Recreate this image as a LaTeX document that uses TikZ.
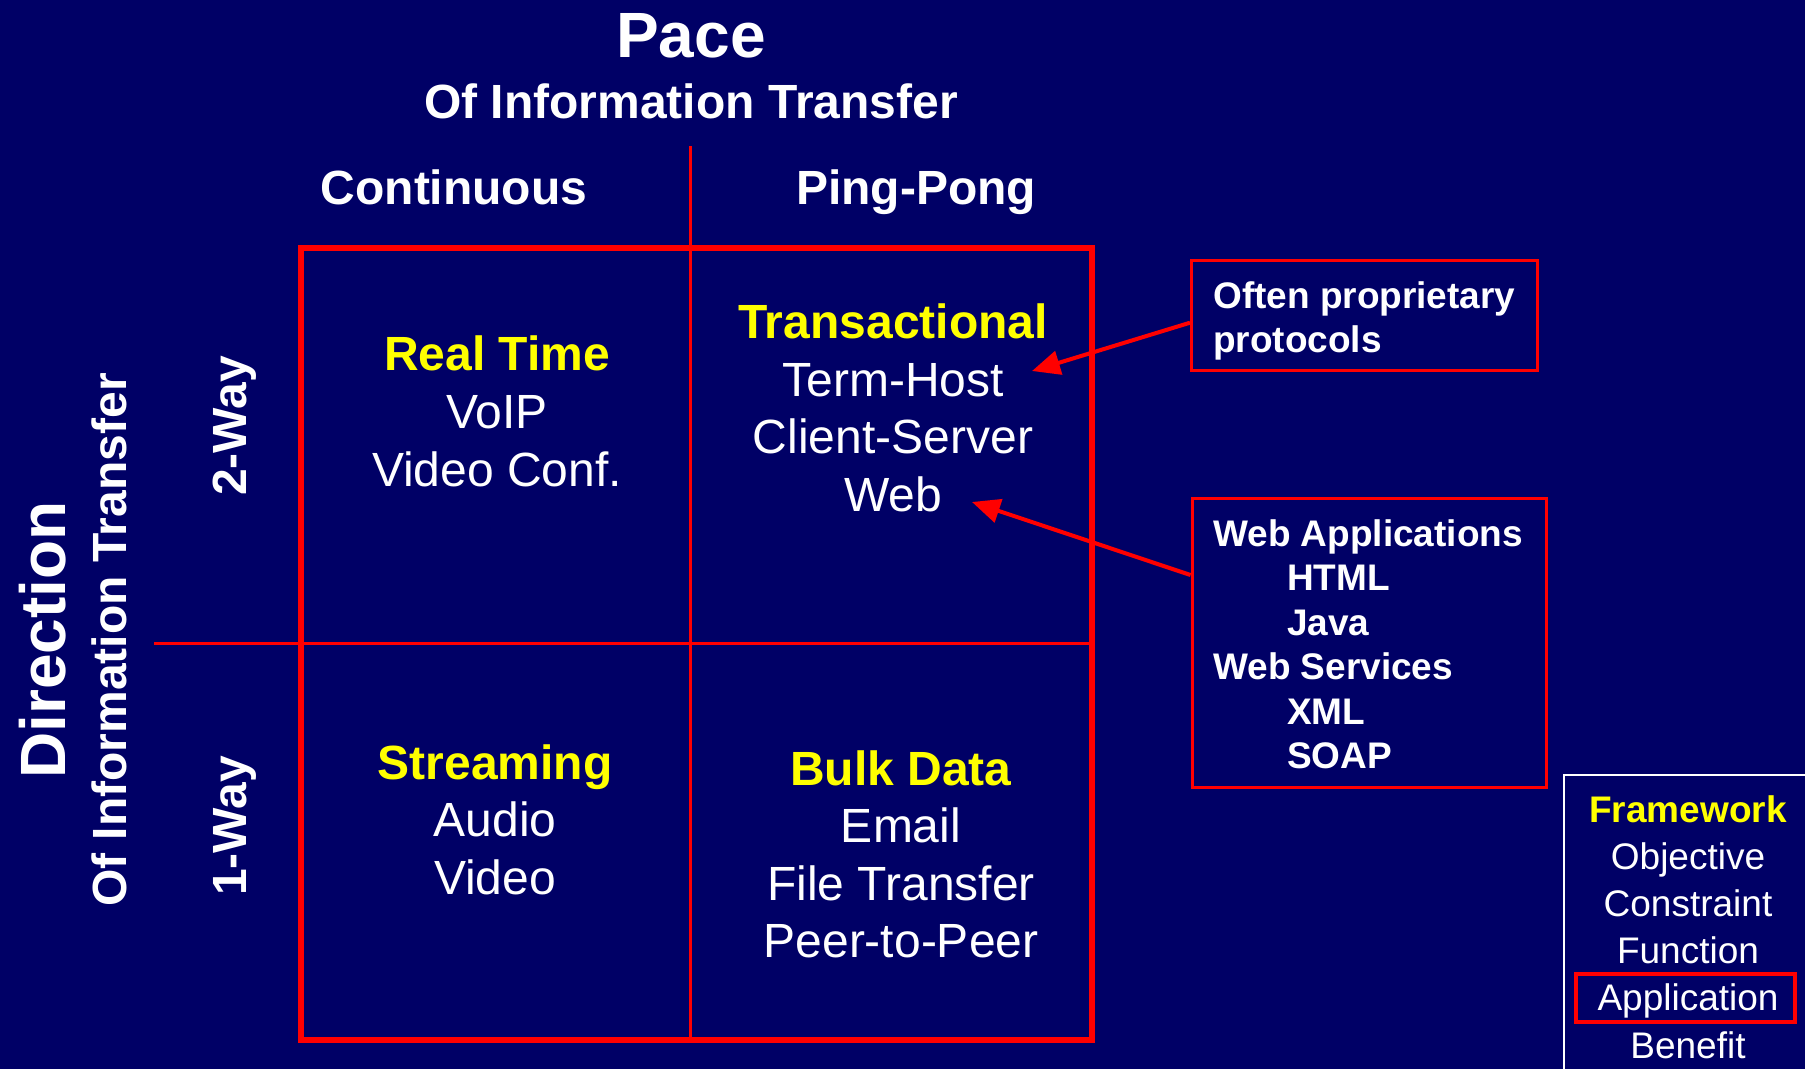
\documentclass[tikz,border=0pt]{standalone}
\usepackage{fontspec}
\setmainfont{Liberation Sans}
\usetikzlibrary{arrows.meta,calc}
\definecolor{navy}{RGB}{0,0,102}
\definecolor{gridred}{RGB}{255,0,0}
\definecolor{headyellow}{RGB}{255,255,0}

\begin{document}
\begin{tikzpicture}[x=1bp,y=-1bp,
  heading/.style={text=white,inner sep=0pt,font=\bfseries\fontsize{48bp}{57.6bp}\selectfont},
  bigheading/.style={heading,font=\bfseries\fontsize{64bp}{76.8bp}\selectfont},
  quadtext/.style={text=white,inner sep=0pt,align=center,font=\fontsize{48bp}{57.6bp}\selectfont},
  notetext/.style={text=white,inner sep=0pt,align=left,font=\bfseries\fontsize{37bp}{44.5bp}\selectfont},
  notebox/.style={draw=gridred,line width=3bp,inner sep=0pt},
  pointer/.style={draw=gridred,line width=4bp,-{Triangle[length=28bp,width=24bp]}},
  listtext/.style={text=white,inner sep=0pt,align=center,font=\fontsize{37bp}{47.2bp}\selectfont}
]
% canvas
\useasboundingbox (0,0) rectangle (1805,1069);
\fill[navy] (0,0) rectangle (1805,1069);
\clip (0,0) rectangle (1805,1069);

% axis titles
\node[bigheading,anchor=base] (pace) at (691,57) {Pace};
\node[heading,anchor=base] (pacesub) at (691,118) {Of Information Transfer};
\node[heading,anchor=base] (cont) at (454,204) {Continuous};
\node[heading,anchor=base] (ping) at (916,204) {Ping-Pong};

\node[bigheading,anchor=base,rotate=90] (dir) at (65,640) {Direction};
\node[heading,anchor=base,rotate=90] (dirsub) at (126,640) {Of Information Transfer};
\node[heading,anchor=base,rotate=90] (two) at (246,426) {2-Way};
\node[heading,anchor=base,rotate=90] (one) at (246,826) {1-Way};

% the 2x2 grid
\draw[gridred,line width=3bp] (690.7,146) -- (690.7,1040);
\draw[gridred,line width=3bp] (154,643.5) -- (1092,643.5);
\draw[gridred,line width=6bp] (301,248) rectangle (1092,1040);

% quadrant contents (anchored at the baseline of the last line)
\node[quadtext,anchor=base] (rt) at (497,486)
  {{\bfseries\color{headyellow}Real Time}\\VoIP\\Video Conf.};
\node[quadtext,anchor=base] (tr) at (893,511.5)
  {{\bfseries\color{headyellow}Transactional}\\Term-Host\\Client-Server\\Web};
\node[quadtext,anchor=base] (st) at (495,894.2)
  {{\bfseries\color{headyellow}Streaming}\\Audio\\Video};
\node[quadtext,anchor=base] (bd) at (901,957.8)
  {{\bfseries\color{headyellow}Bulk Data}\\Email\\File Transfer\\Peer-to-Peer};

% side notes
\node[notebox,minimum width=345.5bp,minimum height=110.5bp] (often) at (1364.25,315.7) {};
\node[notetext,anchor=base west] (oftentxt) at (1213,352.5) {Often proprietary\\protocols};

\node[notebox,minimum width=354bp,minimum height=289bp] (webbox) at (1369,643) {};
\node[notetext,anchor=base west] (webtxt) at (1213,768.5)
  {Web Applications\\\hspace*{74bp}HTML\\\hspace*{74bp}Java\\Web Services\\\hspace*{74bp}XML\\\hspace*{74bp}SOAP};

\coordinate (tipa) at (1032,371);
\coordinate (tipb) at (972,502);
\draw[pointer] ($(often.west)+(0,7)$) -- (tipa);
\draw[pointer] ($(webbox.west)+(0,-68)$) -- (tipb);

% framework legend
\draw[white,line width=1.5bp] (1564,1080) -- (1564,775) -- (1815,775);
\node[listtext,anchor=base] (fw) at (1688,1058)
  {{\bfseries\color{headyellow}Framework}\\Objective\\Constraint\\Function\\Application\\Benefit};
\node[draw=gridred,line width=3.5bp,inner sep=0pt,minimum width=219bp,minimum height=48bp] (appl) at (1685.5,998) {};
\end{tikzpicture}
\end{document}
